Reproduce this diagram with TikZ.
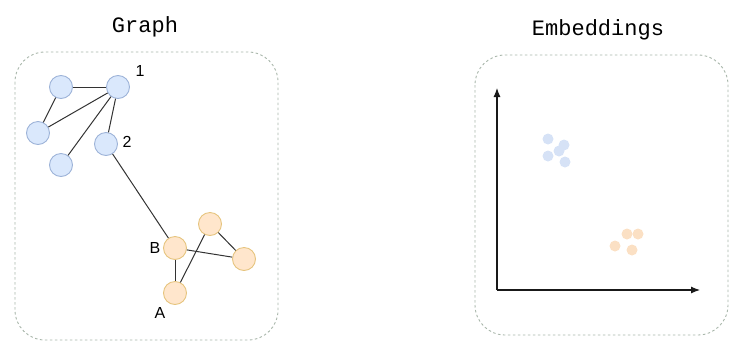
\documentclass[tikz,border=0pt]{standalone}
\usepackage{fontspec}
\setmainfont{Liberation Sans}
\newfontfamily\titlefont{Liberation Mono}
\usetikzlibrary{arrows.meta}
\definecolor{bluefill}{HTML}{DAE8FC}
\definecolor{blueline}{HTML}{9DB3D8}
\definecolor{orangefill}{HTML}{FFE6CC}
\definecolor{orangeline}{HTML}{E6C47E}
\definecolor{boxline}{HTML}{A8B6AA}
\definecolor{edgecol}{HTML}{333333}
\definecolor{bluedot}{HTML}{D6E2F6}
\definecolor{orangedot}{HTML}{FBE0C4}
\tikzset{
  bnode/.style={circle, draw=blueline, fill=bluefill, line width=0.9pt, minimum size=23pt, inner sep=0pt},
  onode/.style={circle, draw=orangeline, fill=orangefill, line width=0.9pt, minimum size=23pt, inner sep=0pt},
  edge/.style={draw=edgecol, line width=1pt},
  frame/.style={draw=boxline, line width=0.9pt, dash pattern=on 2.5pt off 2.5pt, rounded corners=30pt},
  title/.style={font=\titlefont\fontsize{22}{24}\selectfont, text=black},
  lbl/.style={font=\fontsize{16}{17}\selectfont, text=black, inner sep=0pt},
  bdot/.style={circle, fill=bluedot, minimum size=11pt, inner sep=0pt},
  odot/.style={circle, fill=orangedot, minimum size=11pt, inner sep=0pt},
  axis/.style={draw=black!90, line width=1.1pt, -{Latex[length=9pt,width=7pt]}}
}
\begin{document}
\begin{tikzpicture}[x=1pt,y=-1pt]
\useasboundingbox (0,0) rectangle (730,354);
% frames
\draw[frame] (15,52) rectangle (278,340);
\draw[frame] (475,55) rectangle (728,335);
% titles
\node[title] (tg) at (145,27) {Graph};
\node[title] (te) at (598,30) {Embeddings};
% blue nodes
\node[bnode] (a1) at (61,87) {};
\node[bnode] (n1) at (118,87) {};
\node[bnode] (a3) at (38,133) {};
\node[bnode] (n2) at (106,144) {};
\node[bnode] (a4) at (61,165) {};
% orange nodes
\node[onode] (ot) at (210,224) {};
\node[onode] (nB) at (175,248) {};
\node[onode] (orr) at (244,259) {};
\node[onode] (nA) at (175,293) {};
% labels
\node[lbl] (l1) at (140,71) {1};
\node[lbl] (l2) at (127,142) {2};
\node[lbl] (lB) at (155,248) {B};
\node[lbl] (lA) at (160,313) {A};
% edges
\draw[edge] (a1) -- (n1);
\draw[edge] (a1) -- (a3);
\draw[edge] (a3) -- (n1);
\draw[edge] (a4) -- (n1);
\draw[edge] (n2) -- (n1);
\draw[edge] (n2) -- (nB);
\draw[edge] (nB) -- (orr);
\draw[edge] (ot) -- (orr);
\draw[edge] (ot) -- (nA);
\draw[edge] (nB) -- (nA);
% axes
\coordinate (o) at (497,290);
\coordinate (ytop) at (497,88);
\coordinate (xend) at (700,290);
\draw[axis] (o) -- (ytop);
\draw[axis] (o) -- (xend);
% embedding dots
\node[bdot] (b1) at (548,139) {};
\node[bdot] (b2) at (564,145) {};
\node[bdot] (b3) at (559,151) {};
\node[bdot] (b4) at (548,156) {};
\node[bdot] (b5) at (565,162) {};
\node[odot] (o1) at (627,234) {};
\node[odot] (o2) at (638,234) {};
\node[odot] (o3) at (615,246) {};
\node[odot] (o4) at (632,250) {};
\end{tikzpicture}
\end{document}
